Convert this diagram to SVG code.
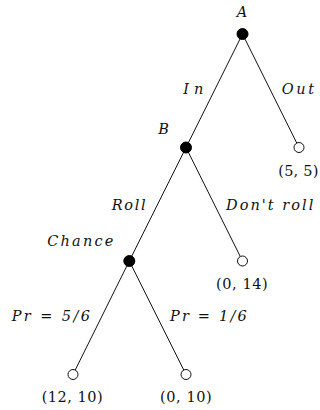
<svg xmlns="http://www.w3.org/2000/svg" width="320" height="410" viewBox="0 0 320 410">
<style>
.edge{stroke:#111;stroke-width:1;fill:none}
.dec{fill:#000;stroke:#000;stroke-width:1}
.leaf{fill:#fff;stroke:#111;stroke-width:1}
text{font-family:"DejaVu Serif","Liberation Serif",serif;font-size:14.5px;fill:#111}
.it{font-style:italic}
</style>
<rect width="320" height="410" fill="#fff"/>
<g id="connectors">
<line class="edge" x1="242.5" y1="34" x2="186" y2="147.5"/>
<line class="edge" x1="242.5" y1="34" x2="299" y2="147.5"/>
<line class="edge" x1="186" y1="147.5" x2="129.3" y2="261"/>
<line class="edge" x1="186" y1="147.5" x2="242.5" y2="261"/>
<line class="edge" x1="129.3" y1="261" x2="73" y2="374.5"/>
<line class="edge" x1="129.3" y1="261" x2="186" y2="374.5"/>
<text class="it" x="183.3" y="94.3" textLength="20" lengthAdjust="spacing">In</text>
<text class="it" x="281.7" y="94.3" textLength="32.3" lengthAdjust="spacing">Out</text>
<text class="it" x="111.7" y="209.5" textLength="34" lengthAdjust="spacing">Roll</text>
<text class="it" x="226" y="209.5" textLength="87.3" lengthAdjust="spacing">Don't roll</text>
<text class="it" x="11.7" y="320.5" textLength="78.3" lengthAdjust="spacing">Pr = 5/6</text>
<text class="it" x="170" y="320.5" textLength="76.7" lengthAdjust="spacing">Pr = 1/6</text>
</g>
<g id="nodeA">
<circle class="dec" cx="242.5" cy="34" r="5.5"/>
<text class="it" x="236.7" y="16.7" textLength="11.6" lengthAdjust="spacing">A</text>
</g>
<g id="nodeB">
<circle class="dec" cx="186" cy="147.5" r="5.5"/>
<text class="it" x="158.3" y="133.5" textLength="13.4" lengthAdjust="spacing">B</text>
</g>
<g id="nodeChance">
<circle class="dec" cx="129.3" cy="261" r="5.5"/>
<text class="it" x="47.3" y="246" textLength="66" lengthAdjust="spacing">Chance</text>
</g>
<g id="leafOut">
<circle class="leaf" cx="299" cy="147.5" r="5"/>
<text x="278.3" y="176" textLength="40" lengthAdjust="spacing">(5, 5)</text>
</g>
<g id="leafDontRoll">
<circle class="leaf" cx="242.5" cy="261" r="5"/>
<text x="216" y="289" textLength="51.7" lengthAdjust="spacing">(0, 14)</text>
</g>
<g id="leaf56">
<circle class="leaf" cx="73" cy="374.5" r="5"/>
<text x="41.7" y="402" textLength="61" lengthAdjust="spacing">(12, 10)</text>
</g>
<g id="leaf16">
<circle class="leaf" cx="186" cy="374.5" r="5"/>
<text x="160" y="402" textLength="51.7" lengthAdjust="spacing">(0, 10)</text>
</g>
</svg>
